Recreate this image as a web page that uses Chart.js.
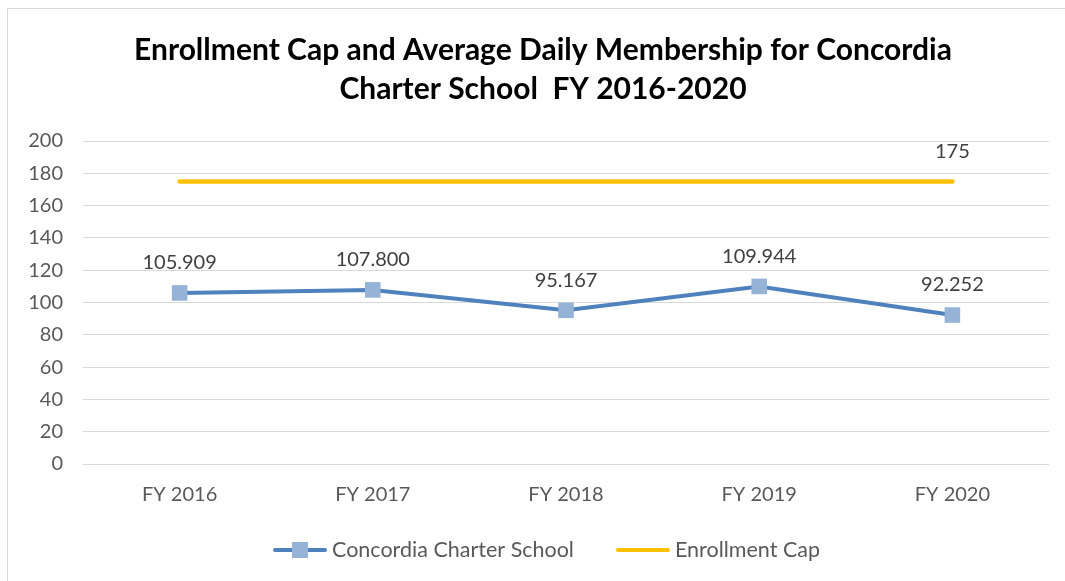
<!DOCTYPE html>
<html>
<head>
<meta charset="utf-8">
<script src="https://cdn.jsdelivr.net/npm/chart.js@4"></script>
<style>
  html, body { margin: 0; padding: 0; background: #fff; }
  #frame {
    position: absolute; left: 7px; top: 8px; width: 1070px; height: 590px;
    border: 1px solid #d9d9d9; box-sizing: border-box;
  }
  #wrap { position: absolute; left: 0; top: 0; width: 1065px; height: 581px; }
</style>
</head>
<body>
<div id="frame"></div>
<div id="wrap"><canvas id="chart"></canvas></div>
<script>
const categories = ['FY 2016', 'FY 2017', 'FY 2018', 'FY 2019', 'FY 2020'];
const schoolValues = [105.909, 107.800, 95.167, 109.944, 92.252];
const capValues = [175, 175, 175, 175, 175];
const yTicks = [0, 20, 40, 60, 80, 100, 120, 140, 160, 180, 200];
const seriesNames = ['Concordia Charter School', 'Enrollment Cap'];
const titleLines = ['Enrollment Cap and Average Daily Membership for Concordia', 'Charter School  FY 2016-2020'];

const BLUE_LINE = '#4f81bd';
const BLUE_MARK = '#95b3d7';
const GOLD = '#ffc000';
const GRAY_TXT = '#595959';
const FONT = 'Lato, "Open Sans", sans-serif';

// title drawn by hand so it can sit slightly right of the canvas centre, like excel
const chartTitle = {
  id: 'chartTitle',
  afterDraw(chart) {
    const ctx = chart.ctx;
    ctx.save();
    ctx.font = 'bold 30px ' + FONT;
    ctx.fillStyle = '#000';
    ctx.textAlign = 'center';
    ctx.textBaseline = 'middle';
    titleLines.forEach((t, i) => ctx.fillText(t, 543, 50 + i * 39));
    ctx.restore();
  }
};

// value labels above the points (all blue points, last cap point only)
const valueLabels = {
  id: 'valueLabels',
  afterDatasetsDraw(chart) {
    const ctx = chart.ctx;
    ctx.save();
    ctx.font = '20px ' + FONT;
    ctx.fillStyle = '#404040';
    ctx.textAlign = 'center';
    ctx.textBaseline = 'middle';
    chart.getDatasetMeta(0).data.forEach((pt, i) => {
      ctx.fillText(schoolValues[i].toFixed(3), pt.x, pt.y - 30);
    });
    const capMeta = chart.getDatasetMeta(1).data;
    const last = capMeta[capMeta.length - 1];
    ctx.fillText(String(capValues[capValues.length - 1]), last.x, last.y - 30);
    ctx.restore();
  }
};

// excel-like legend: line swatch (with marker for first series) + text
const bottomLegend = {
  id: 'bottomLegend',
  afterDraw(chart) {
    const ctx = chart.ctx;
    ctx.save();
    ctx.font = '21.5px ' + FONT;
    ctx.textBaseline = 'middle';
    ctx.textAlign = 'left';
    const swW = 54, txtGap = 5, itemGap = 42;
    const items = chart.data.datasets.map((ds, i) => ({
      text: seriesNames[i], color: ds.borderColor, marker: i === 0,
      w: swW + txtGap + ctx.measureText(seriesNames[i]).width,
    }));
    const total = items.reduce((s, it) => s + it.w, 0) + itemGap * (items.length - 1);
    let x = chart.width / 2 + 14 - total / 2;
    const y = 550;
    items.forEach(it => {
      ctx.strokeStyle = it.color;
      ctx.lineWidth = 4;
      ctx.lineCap = 'round';
      ctx.beginPath(); ctx.moveTo(x + 2, y); ctx.lineTo(x + swW - 2, y); ctx.stroke();
      if (it.marker) {
        ctx.fillStyle = BLUE_MARK;
        ctx.fillRect(x + swW / 2 - 8, y - 8, 16, 16);
      }
      ctx.fillStyle = GRAY_TXT;
      ctx.fillText(it.text, x + swW + txtGap, y);
      x += it.w + itemGap;
    });
    ctx.restore();
  }
};

new Chart(document.getElementById('chart'), {
  type: 'line',
  data: {
    labels: categories,
    datasets: [
      {
        label: seriesNames[0],
        data: schoolValues,
        borderColor: BLUE_LINE,
        borderWidth: 4,
        pointStyle: 'rect',
        pointRadius: 11,
        pointBackgroundColor: BLUE_MARK,
        pointBorderColor: BLUE_MARK,
        pointBorderWidth: 0,
        tension: 0,
        fill: false,
      },
      {
        label: seriesNames[1],
        data: capValues,
        borderColor: GOLD,
        borderWidth: 4.5,
        borderCapStyle: 'round',
        pointRadius: 0,
        tension: 0,
        fill: false,
      },
    ],
  },
  options: {
    responsive: true,
    maintainAspectRatio: false,
    animation: false,
    layout: { padding: { left: 11, right: 16, top: 141, bottom: 63 } },
    plugins: {
      title: { display: false },
      legend: { display: false },
      tooltip: { enabled: false },
    },
    scales: {
      x: {
        offset: true,
        grid: { display: false },
        border: { display: false },
        ticks: { color: GRAY_TXT, font: { family: FONT, size: 20 }, padding: 11 },
      },
      y: {
        min: 0,
        max: 200,
        afterBuildTicks: axis => { axis.ticks = yTicks.map(v => ({ value: v })); },
        afterFit: axis => { axis.width = 72; },
        grid: { color: '#d9d9d9', drawTicks: false },
        border: { display: false },
        ticks: { color: GRAY_TXT, font: { family: FONT, size: 20 }, padding: 20 },
      },
    },
  },
  plugins: [chartTitle, valueLabels, bottomLegend],
});
</script>
</body>
</html>
